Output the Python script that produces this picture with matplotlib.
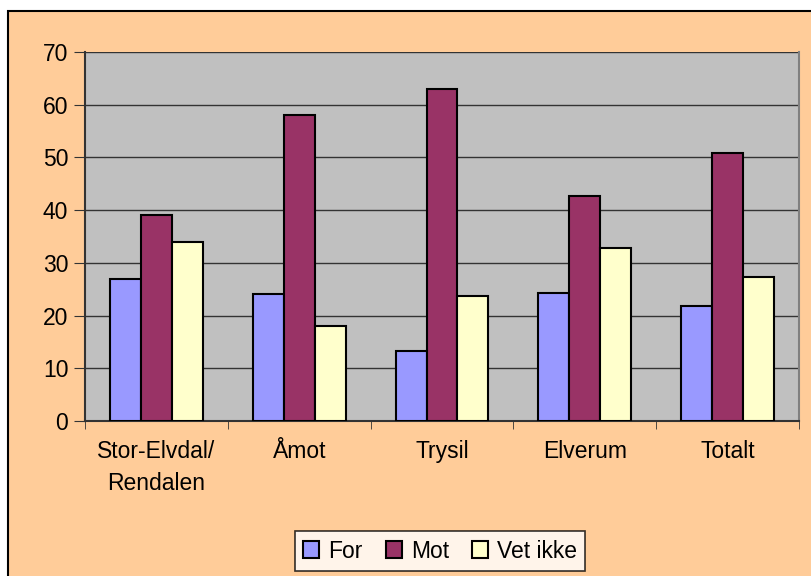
import numpy as np
import matplotlib.pyplot as plt
from matplotlib.patches import Rectangle

# Data
kommuner = ["Stor-Elvdal/\nRendalen", "Åmot", "Trysil", "Elverum", "Totalt"]
serier = ["For", "Mot", "Vet ikke"]
for_vals = [27, 24, 13.3, 24.2, 21.9]
mot_vals = [39, 58, 63, 42.6, 50.8]
vet_ikke_vals = [34, 18, 23.8, 32.8, 27.3]
farger = ["#9999FF", "#993366", "#FFFFCC"]

plt.rcParams['font.family'] = ['Liberation Sans', 'DejaVu Sans']

fig = plt.figure(figsize=(8.11, 5.76), dpi=100, facecolor="white")

# peach chart area with black border (runs off right/bottom edge)
fig.patches.append(Rectangle((8 / 811, -0.05), 1.0, 1 - 11 / 576 + 0.05,
                             transform=fig.transFigure, facecolor="#FFCC99",
                             edgecolor="black", linewidth=1.5, zorder=-10))

ax = fig.add_axes([85 / 811, 1 - 421 / 576, (799 - 85) / 811, (421 - 52) / 576])
ax.set_facecolor("#C0C0C0")

x = np.arange(len(kommuner))
w = 0.217
for i, (vals, navn) in enumerate(zip([for_vals, mot_vals, vet_ikke_vals], serier)):
    ax.bar(x + (i - 1) * w, vals, width=w, color=farger[i], edgecolor="black",
           linewidth=1.5, label=navn, zorder=3)

ax.set_xlim(-0.5, len(kommuner) - 0.5)
ax.set_ylim(0, 70)
ax.set_yticks(range(0, 71, 10))
ax.yaxis.grid(True, color="#333333", linewidth=1)
ax.set_axisbelow(True)

ax.set_xticks(x)
ax.set_xticklabels(kommuner, fontsize=16.5, linespacing=1.45)
ax.set_xticks(np.arange(-0.5, len(kommuner), 1), minor=True)
ax.tick_params(axis="x", which="major", length=0, pad=14)
ax.tick_params(axis="x", which="minor", length=6, direction="out", color="#333333")
ax.tick_params(axis="y", length=8, direction="out", labelsize=16.5, color="#333333", pad=4)

for s in ["left", "bottom"]:
    ax.spines[s].set_color("#333333")
    ax.spines[s].set_linewidth(1.5)
ax.spines["top"].set_visible(False)
ax.spines["right"].set_color("#808080")
ax.spines["right"].set_linewidth(1.5)

leg = fig.legend(loc="center", bbox_to_anchor=(440 / 811, 1 - 551 / 576), ncol=3,
                 fontsize=16.5, frameon=True, fancybox=False, edgecolor="black",
                 handlelength=0.7, handleheight=0.7, handletextpad=0.4,
                 columnspacing=1.0, borderpad=0.35)
leg.get_frame().set_linewidth(1.2)

fig.savefig("out.png", dpi=100, facecolor=fig.get_facecolor())
